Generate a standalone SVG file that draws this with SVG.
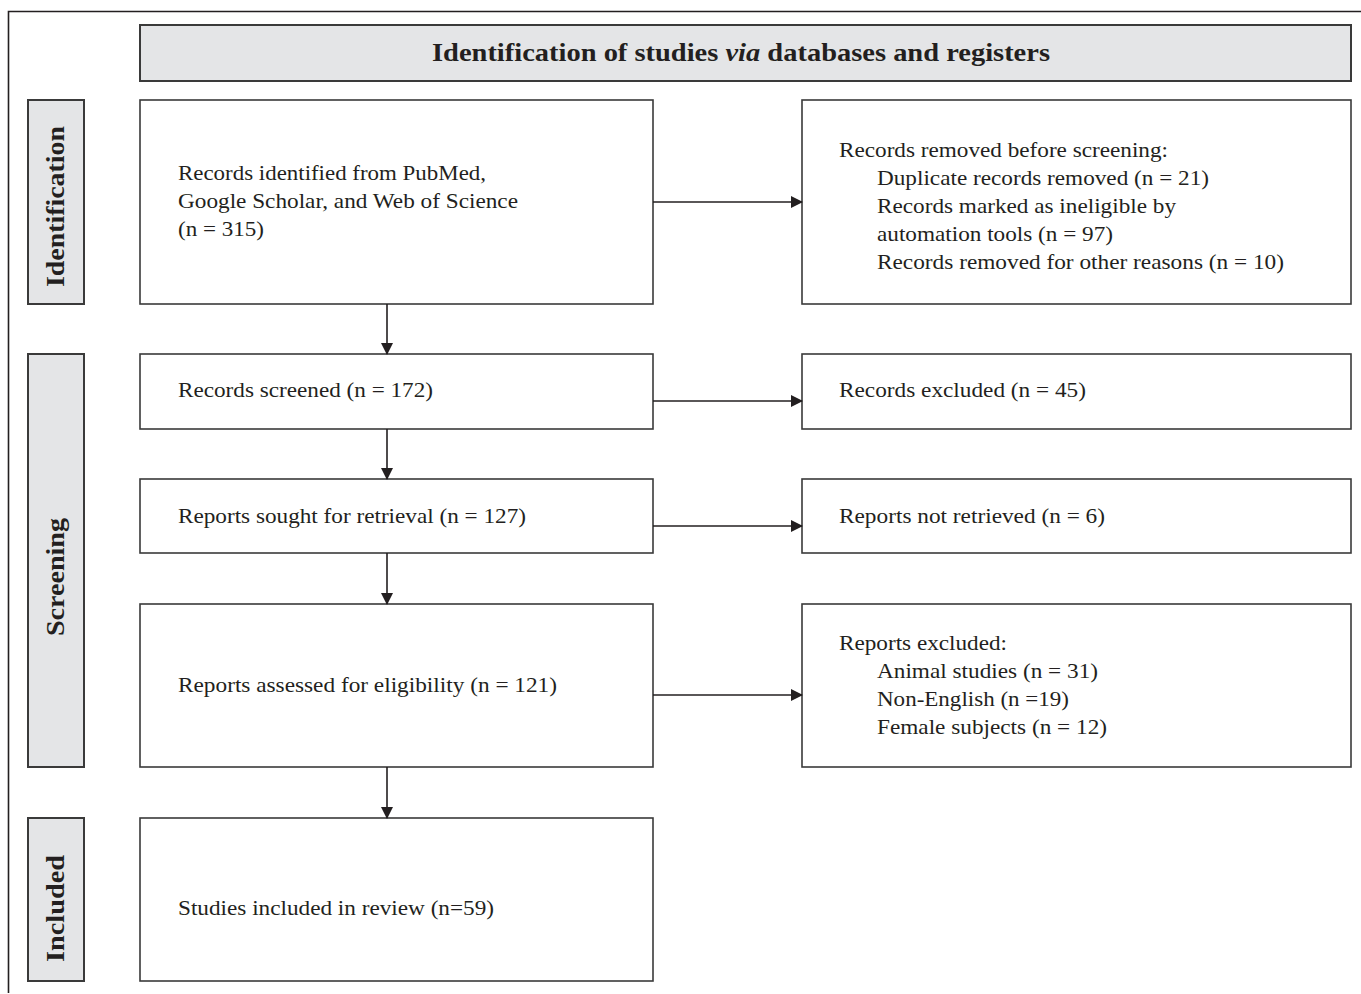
<svg xmlns="http://www.w3.org/2000/svg" width="1361" height="994" viewBox="0 0 1361 994">
<style>
.box{fill:#ffffff;stroke:#3a3a3a;stroke-width:1.6}
.gbox{fill:#e4e5e7;stroke:#3a3a3a;stroke-width:2}
.t{font-family:"Liberation Serif","Times New Roman",serif;font-size:21px;fill:#231f20}
.b{font-family:"Liberation Serif","Times New Roman",serif;font-size:25px;font-weight:bold;fill:#231f20}
.c{stroke:#231f20;stroke-width:1.6;fill:none;marker-end:url(#ah)}
</style>
<defs>
<marker id="ah" markerWidth="12" markerHeight="12" refX="11" refY="6" orient="auto" markerUnits="userSpaceOnUse">
<path d="M0,0 L12,6 L0,12 Z" fill="#231f20"/>
</marker>
</defs>
<rect width="1361" height="994" fill="#ffffff"/>
<path d="M8.5,993 L8.5,11.5 L1361,11.5" fill="none" stroke="#231f20" stroke-width="1.6"/>
<g id="header">
<rect class="gbox" x="140" y="25" width="1211" height="56"/>
<text class="b" x="432" y="61" textLength="618" lengthAdjust="spacingAndGlyphs">Identification of studies <tspan font-style="italic">via</tspan> databases and registers</text>
</g>
<g id="lbl-identification">
<rect class="gbox" x="28" y="100" width="56" height="204"/>
<text class="b" transform="translate(64,287) rotate(-90)" textLength="161" lengthAdjust="spacingAndGlyphs">Identification</text>
</g>
<g id="lbl-screening">
<rect class="gbox" x="28" y="354" width="56" height="413"/>
<text class="b" transform="translate(64,636) rotate(-90)" textLength="118" lengthAdjust="spacingAndGlyphs">Screening</text>
</g>
<g id="lbl-included">
<rect class="gbox" x="28" y="818" width="56" height="163"/>
<text class="b" transform="translate(64,962) rotate(-90)" textLength="107" lengthAdjust="spacingAndGlyphs">Included</text>
</g>
<g id="n-identified">
<rect class="box" x="140" y="100" width="513" height="204"/>
<text class="t" x="178" y="180" textLength="308" lengthAdjust="spacingAndGlyphs">Records identified from PubMed,</text>
<text class="t" x="178" y="208" textLength="340" lengthAdjust="spacingAndGlyphs">Google Scholar, and Web of Science</text>
<text class="t" x="178" y="236" textLength="86" lengthAdjust="spacingAndGlyphs">(n = 315)</text>
</g>
<g id="n-removed">
<rect class="box" x="802" y="100" width="549" height="204"/>
<text class="t" x="839" y="157" textLength="329" lengthAdjust="spacingAndGlyphs">Records removed before screening:</text>
<text class="t" x="877" y="185" textLength="332" lengthAdjust="spacingAndGlyphs">Duplicate records removed (n = 21)</text>
<text class="t" x="877" y="213" textLength="299" lengthAdjust="spacingAndGlyphs">Records marked as ineligible by</text>
<text class="t" x="877" y="241" textLength="236" lengthAdjust="spacingAndGlyphs">automation tools (n = 97)</text>
<text class="t" x="877" y="269" textLength="407" lengthAdjust="spacingAndGlyphs">Records removed for other reasons (n = 10)</text>
</g>
<g id="n-screened">
<rect class="box" x="140" y="354" width="513" height="75"/>
<text class="t" x="178" y="397" textLength="255" lengthAdjust="spacingAndGlyphs">Records screened (n = 172)</text>
</g>
<g id="n-excluded">
<rect class="box" x="802" y="354" width="549" height="75"/>
<text class="t" x="839" y="397" textLength="247" lengthAdjust="spacingAndGlyphs">Records excluded (n = 45)</text>
</g>
<g id="n-sought">
<rect class="box" x="140" y="479" width="513" height="74"/>
<text class="t" x="178" y="523" textLength="348" lengthAdjust="spacingAndGlyphs">Reports sought for retrieval (n = 127)</text>
</g>
<g id="n-notretrieved">
<rect class="box" x="802" y="479" width="549" height="74"/>
<text class="t" x="839" y="523" textLength="266" lengthAdjust="spacingAndGlyphs">Reports not retrieved (n = 6)</text>
</g>
<g id="n-assessed">
<rect class="box" x="140" y="604" width="513" height="163"/>
<text class="t" x="178" y="692" textLength="379" lengthAdjust="spacingAndGlyphs">Reports assessed for eligibility (n = 121)</text>
</g>
<g id="n-reportsexcluded">
<rect class="box" x="802" y="604" width="549" height="163"/>
<text class="t" x="839" y="650" textLength="168" lengthAdjust="spacingAndGlyphs">Reports excluded:</text>
<text class="t" x="877" y="678" textLength="221" lengthAdjust="spacingAndGlyphs">Animal studies (n = 31)</text>
<text class="t" x="877" y="706" textLength="192" lengthAdjust="spacingAndGlyphs">Non-English (n =19)</text>
<text class="t" x="877" y="734" textLength="230" lengthAdjust="spacingAndGlyphs">Female subjects (n = 12)</text>
</g>
<g id="n-included">
<rect class="box" x="140" y="818" width="513" height="163"/>
<text class="t" x="178" y="915" textLength="316" lengthAdjust="spacingAndGlyphs">Studies included in review (n=59)</text>
</g>
<g id="connectors">
<line class="c" x1="653" y1="202" x2="802" y2="202"/>
<line class="c" x1="653" y1="401" x2="802" y2="401"/>
<line class="c" x1="653" y1="526" x2="802" y2="526"/>
<line class="c" x1="653" y1="695" x2="802" y2="695"/>
<line class="c" x1="387" y1="304" x2="387" y2="354"/>
<line class="c" x1="387" y1="429" x2="387" y2="479"/>
<line class="c" x1="387" y1="553" x2="387" y2="604"/>
<line class="c" x1="387" y1="767" x2="387" y2="818"/>
</g>
</svg>
